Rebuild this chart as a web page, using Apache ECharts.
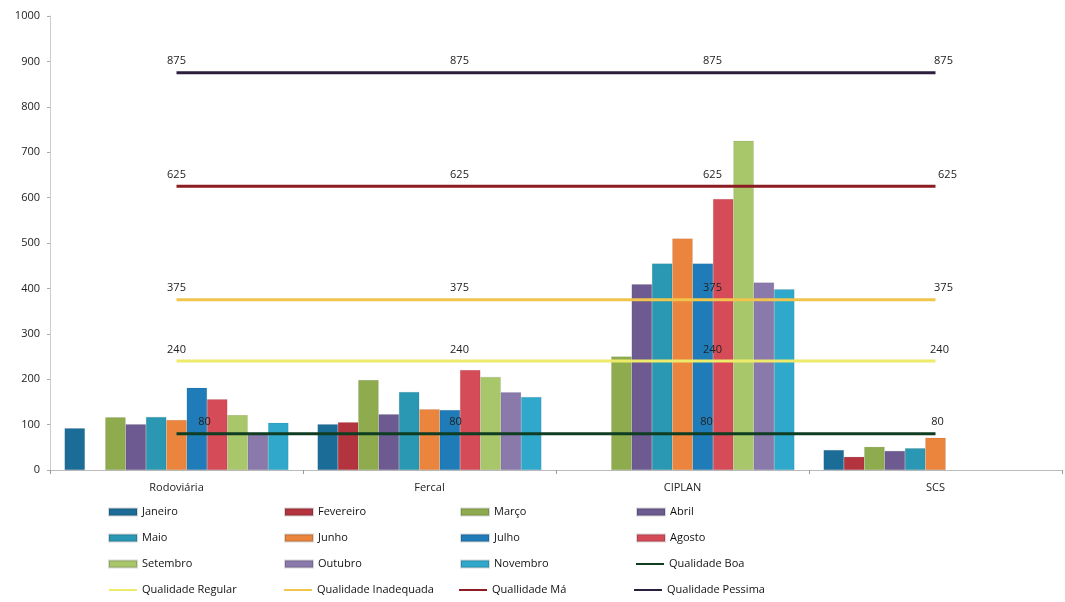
<!DOCTYPE html>
<html>
<head>
<meta charset="utf-8">
<script src="https://cdn.jsdelivr.net/npm/echarts@6/dist/echarts.min.js"></script>
<style>html,body{margin:0;padding:0;background:#fff}#c{width:1065px;height:602px}</style>
</head>
<body>
<div id="c"></div>
<script>
const categories = ['Rodoviária', 'Fercal', 'CIPLAN', 'SCS'];
const yTicks = [0, 100, 200, 300, 400, 500, 600, 700, 800, 900, 1000];

const janeiro   = [92, 101, null, 44];
const fevereiro = [null, 105, null, 29];
const marco     = [116, 198, 250, 51];
const abril     = [101, 123, 409, 42];
const maio      = [117, 172, 455, 48];
const junho     = [110, 134, 510, 71];
const julho     = [181, 132, 455, null];
const agosto    = [156, 220, 597, null];
const setembro  = [121, 205, 725, null];
const outubro   = [81, 171, 413, null];
const novembro  = [104, 161, 398, null];

const qualidadeBoa        = [80, 80, 80, 80];
const qualidadeRegular    = [240, 240, 240, 240];
const qualidadeInadequada = [375, 375, 375, 375];
const qualidadeMa         = [625, 625, 625, 625];
const qualidadePessima    = [875, 875, 875, 875];

const barSeries = [
  ['Janeiro', janeiro, '#1c6c98'],
  ['Fevereiro', fevereiro, '#b3343f'],
  ['Março', marco, '#8eac4e'],
  ['Abril', abril, '#6d5a90'],
  ['Maio', maio, '#2a97b3'],
  ['Junho', junho, '#eb853d'],
  ['Julho', julho, '#1f7cb8'],
  ['Agosto', agosto, '#d54b57'],
  ['Setembro', setembro, '#a8c66a'],
  ['Outubro', outubro, '#8a79ab'],
  ['Novembro', novembro, '#30a8cc']
];
const lineSeries = [
  ['Qualidade Boa', qualidadeBoa, '#0f3d22', [28, 26, 24, 2]],
  ['Qualidade Regular', qualidadeRegular, '#eeea6a', [0, 30, 30, 4]],
  ['Qualidade Inadequada', qualidadeInadequada, '#f1c44c', [0, 30, 30, 8]],
  ['Quallidade Má', qualidadeMa, '#8a1c22', [0, 30, 30, 12]],
  ['Qualidade Pessima', qualidadePessima, '#2b1e3e', [0, 30, 30, 8]]
];

const FONT = 'Open Sans';
const LINE_ICON = 'path://M0,0 H28 V2 H0 Z';
const series = [];
const legendData = [];
barSeries.forEach(([name, data, color]) => {
  legendData.push({ name, icon: 'rect' });
  series.push({
    name, type: 'bar', data,
    barGap: '0%', barCategoryGap: '11.5%',
    itemStyle: { color, borderColor: 'rgba(0,0,0,0.15)', borderWidth: 0.5 }
  });
});
lineSeries.forEach(([name, data, color, offs]) => {
  legendData.push({ name, icon: LINE_ICON, itemStyle: { color } });
  series.push({
    name, type: 'line', z: 5,
    symbol: 'circle', symbolSize: 0.1, showSymbol: true,
    lineStyle: { color, width: 3 },
    itemStyle: { color },
    data: data.map((v, i) => ({
      value: v,
      label: { show: true, offset: [offs[i], 0] }
    })),
    label: {
      show: true, position: 'top', distance: 6,
      color: '#222', fontFamily: FONT, fontSize: 11
    }
  });
});

const chart = echarts.init(document.getElementById('c'), null, { renderer: 'canvas' });
chart.setOption({
  backgroundColor: '#fff',
  animation: false,
  grid: { left: 50, right: 3, top: 16, bottom: 132, containLabel: false },
  legend: {
    data: legendData,
    left: 108, top: 505, width: 720, padding: 0,
    itemWidth: 28, itemHeight: 7, itemGap: 12,
    textStyle: { fontFamily: FONT, fontSize: 11, color: '#111', lineHeight: 14, width: 130 },
    selectedMode: false
  },
  xAxis: {
    type: 'category', data: categories,
    axisLine: { lineStyle: { color: '#bbb' } },
    axisTick: { show: true, length: 4, lineStyle: { color: '#999' } },
    axisLabel: { color: '#222', fontFamily: FONT, fontSize: 11, margin: 12 }
  },
  yAxis: {
    type: 'value', min: yTicks[0], max: yTicks[yTicks.length - 1], interval: 100,
    axisLine: { show: true, lineStyle: { color: '#ccc' } },
    axisTick: { show: true, length: 3, lineStyle: { color: '#aaa' } },
    splitLine: { show: false },
    axisLabel: { color: '#222', fontFamily: FONT, fontSize: 11, margin: 10, formatter: v => String(v) }
  },
  series
});
</script>
</body>
</html>
